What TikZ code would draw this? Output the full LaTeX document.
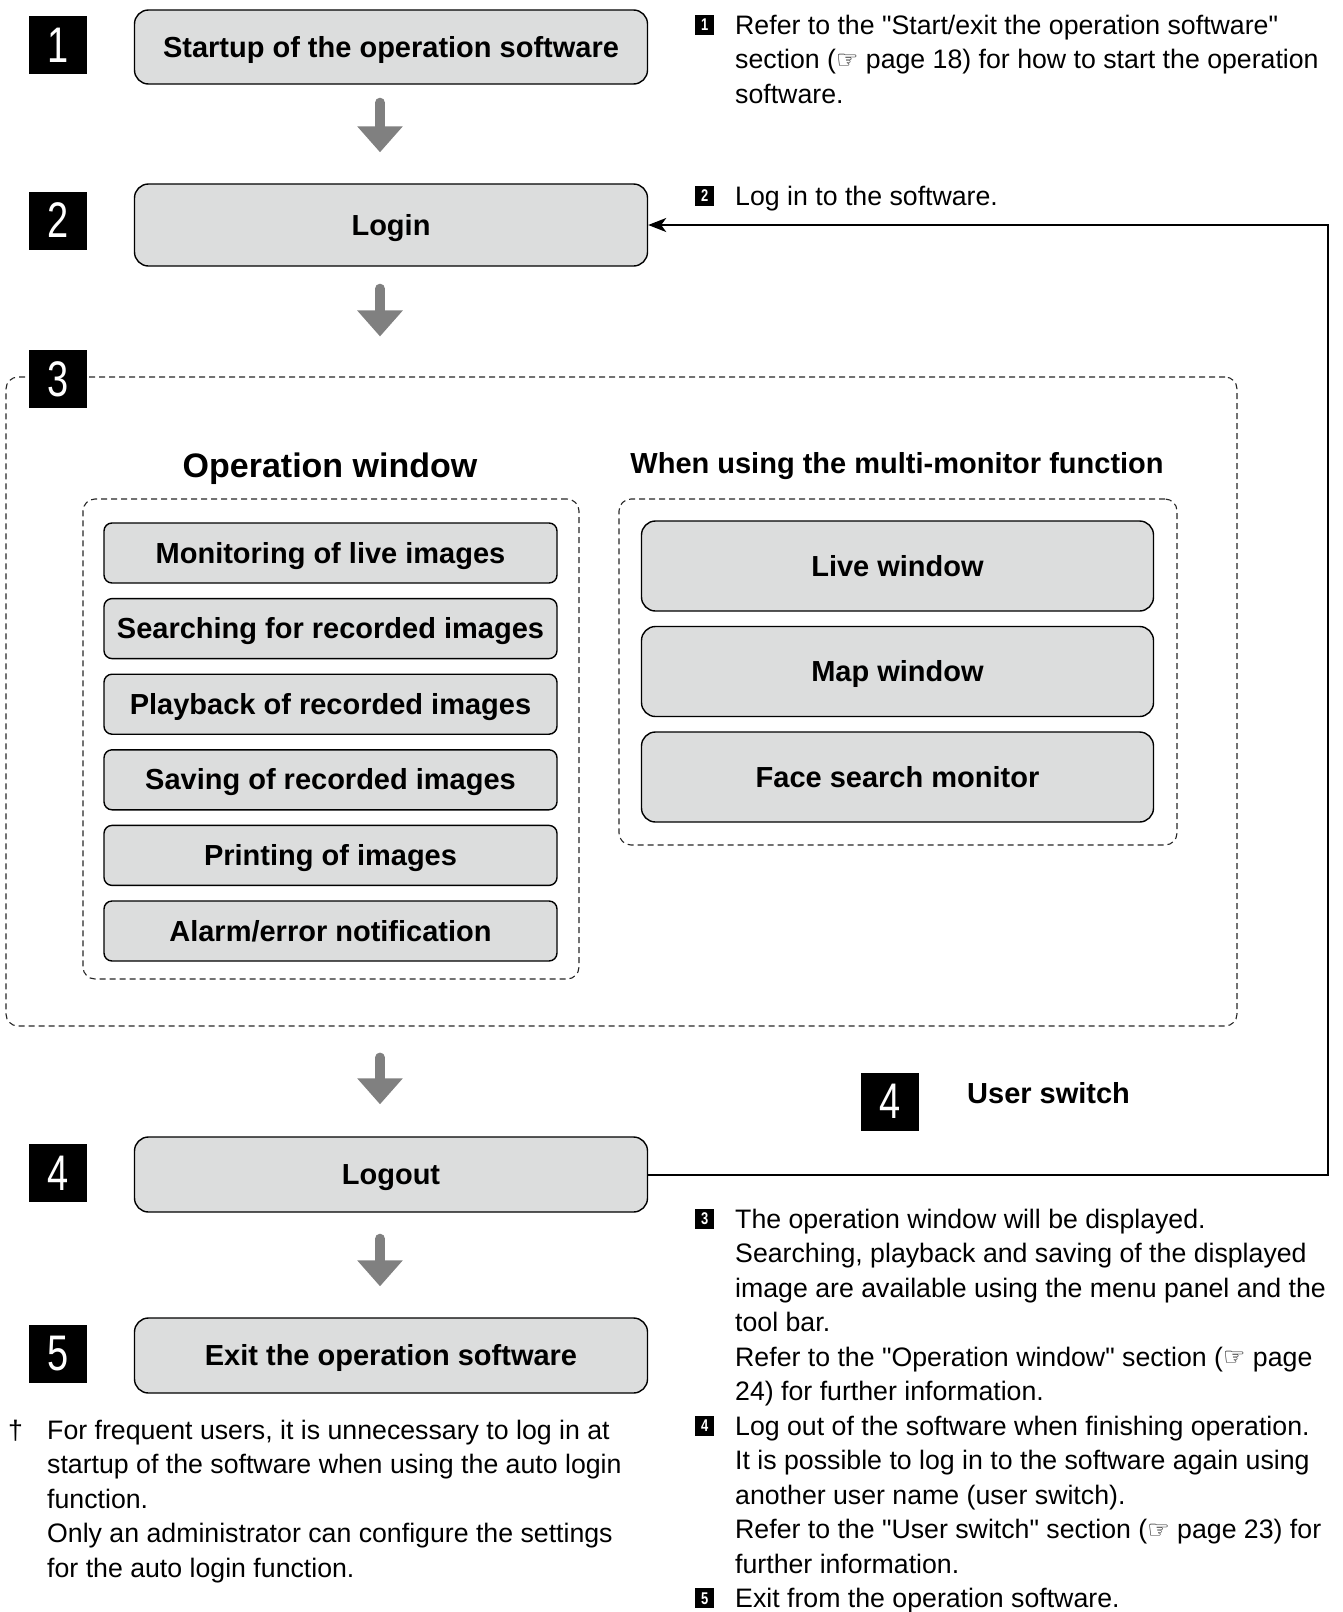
\documentclass[tikz,border=0pt]{standalone}
\usepackage{fontspec}
\setmainfont[Ligatures=TeXOff]{Liberation Sans}
\newfontfamily\digitfont[FakeStretch=0.76]{Liberation Sans}
\newfontfamily\handfont{DejaVu Sans}
\usepackage{tikz}
\usetikzlibrary{calc,chains,positioning,arrows.meta}
\definecolor{boxgray}{RGB}{220,221,221}
\definecolor{arrowgray}{RGB}{128,128,128}
\newcommand\handsign{{\handfont\fontsize{25pt}{25pt}\selectfont\raisebox{0.5pt}{☞}}}

\begin{document}
\begin{tikzpicture}[
x=1pt, y=1pt,
stepbox/.style={
	draw, line width=1.4pt, rounded corners=14pt,
	fill=boxgray, minimum width=513pt, minimum height=74pt,
	text height=21pt, text depth=1pt,
	font=\bfseries\fontsize{29pt}{35pt}\selectfont
},
opitem/.style={stepbox, rounded corners=8pt, minimum width=453pt, minimum height=60pt},
winitem/.style={stepbox, minimum width=512pt, minimum height=90pt},
dashframe/.style={
	draw=black!85, line width=1.1pt, dash pattern=on 6pt off 4pt,
	rounded corners=12pt, inner sep=0pt
},
badge/.style={
	fill=black, text=white, minimum size=58pt, inner sep=0pt,
	font=\digitfont\fontsize{50pt}{50pt}\selectfont
},
minibadge/.style={
	fill=black, text=white, minimum width=19pt, minimum height=20pt, inner sep=0pt,
	font=\digitfont\bfseries\fontsize{17pt}{17pt}\selectfont
},
note/.style={anchor=north west, inner sep=0pt, align=left, font=\fontsize{26.7pt}{34.5pt}\selectfont},
heading/.style={inner sep=0pt, font=\bfseries\fontsize{29pt}{35pt}\selectfont},
flowarrow/.style={draw=arrowgray, line width=10pt, line cap=round, -{Triangle[width=44pt,length=26pt]}},
returnline/.style={line width=2pt, -{Stealth[length=18pt,width=14pt,inset=5pt]}}
]
\useasboundingbox (0,0) rectangle (1343,-1612);

% main flow
\node[stepbox] (start) at (391,-47) {Startup of the operation software};
\node[stepbox, minimum height=82pt] (login) at (391,-225) {Login};
\node[stepbox, minimum height=75pt] (logout) at (391,-1174.5) {Logout};
\node[stepbox, minimum height=75pt] (exit) at (391,-1355.5) {Exit the operation software};

% step 3 frames
\node[dashframe, minimum width=1231pt, minimum height=649pt] (opframe) at (621.5,-701.5) {};
\node[dashframe, minimum width=496pt, minimum height=480pt] (opbox) at (331,-739) {};
\node[dashframe, minimum width=558pt, minimum height=346pt] (multibox) at (898,-672) {};
\node[heading, font=\bfseries\fontsize{34pt}{40pt}\selectfont, anchor=base] (optitle) at (330,-477) {Operation window};
\node[heading, anchor=base] (multititle) at (897,-473) {When using the multi-monitor function};

\begin{scope}[start chain=ops going below, node distance=14.2pt]
\node[opitem, on chain] (live) at (330.5,-553) {Monitoring of live images};
\node[opitem, on chain] (search) {Searching for recorded images};
\node[opitem, on chain] (play) {Playback of recorded images};
\node[opitem, on chain] (save) {Saving of recorded images};
\node[opitem, on chain] (print) {Printing of images};
\node[opitem, on chain] (alarm) {Alarm/error notification};
\end{scope}

\begin{scope}[start chain=wins going below, node distance=14.1pt]
\node[winitem, on chain] (livewin) at (897.5,-566) {Live window};
\node[winitem, on chain] (mapwin) {Map window};
\node[winitem, on chain] (facewin) {Face search monitor};
\end{scope}

% step numbers
\foreach \n/\y in {1/45,2/220.5,3/379,4/1173,5/1354}
{
	\node[badge] (b\n) at (58,-\y) {\n};
}

% arrows
\coordinate (axis) at (380,0);
\foreach \src/\dst/\s/\e in {start/login/18/31, login/opframe/22/40, opframe/logout/31/32, logout/exit/26/31}
{
	\draw[flowarrow, shorten <=\s pt, shorten >=\e pt] (\src.south -| axis) -- (\dst.north -| axis);
}

% user switch
\coordinate (turn) at (1328,0);
\draw[returnline] (logout.east) -- (logout.east -| turn) |- (login.east);
\node[badge] (b4r) at (890,-1101.5) {4};
\node[heading, anchor=base west] (userswitch) at (967,-1103) {User switch};

% notes
\node[note] (note1) at (735,-9.85) {\strut Refer to the "Start/exit the operation software"\\
section (\handsign{} page 18) for how to start the operation\\
software.};
\node[note] (note2) at (735,-180.85) {\strut Log in to the software.};
\node[note] (note3) at (735,-1203.85) {\strut The operation window will be displayed.\\
Searching, playback and saving of the displayed\\
image are available using the menu panel and the\\
tool bar.\\
Refer to the "Operation window" section (\handsign{} page\\
24) for further information.};
\node[note] (note4) at (735,-1410.85) {\strut Log out of the software when finishing operation.\\
It is possible to log in to the software again using\\
another user name (user switch).\\
Refer to the "User switch" section (\handsign{} page 23) for\\
further information.};
\node[note] (note5) at (735,-1583.35) {\strut Exit from the operation software.};
\foreach \n in {1,...,5}
{
	\node[minibadge, anchor=south west] (m\n) at ([xshift=-40pt,yshift=-25.15pt]note\n.north west) {\n};
}

% footnote
\node[note] (foot) at (47,-1414.85) {\strut For frequent users, it is unnecessary to log in at\\
startup of the software when using the auto login\\
function.\\
Only an administrator can configure the settings\\
for the auto login function.};
\node[note, anchor=base west] (dagger) at ([xshift=-39pt,yshift=-24.15pt]foot.north west) {†};
\end{tikzpicture}
\end{document}
